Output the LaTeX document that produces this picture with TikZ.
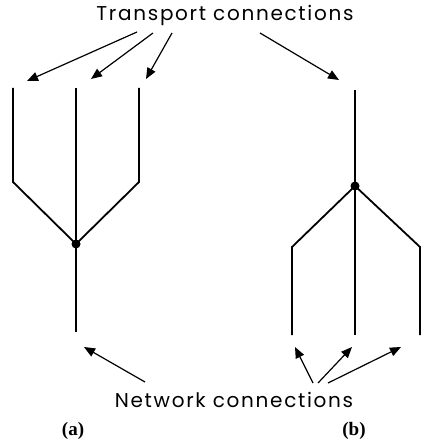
\documentclass[tikz,border=0pt]{standalone}
\usepackage{fontspec}
\usetikzlibrary{arrows.meta}
\setmainfont{Liberation Serif}
\newfontfamily\plotfont[LetterSpace=8.5]{Poppins}
\begin{document}
\begin{tikzpicture}[x=1pt,y=-1pt,
  wire/.style={line width=1.8pt, line join=miter},
  pointer/.style={line width=1.2pt, -{Triangle[length=11pt,width=9pt]}},
  junction/.style={circle, fill, inner sep=0pt, minimum size=9pt},
  caption/.style={font=\plotfont\fontsize{20}{24}\selectfont, inner sep=0pt},
  tag/.style={font=\bfseries\fontsize{19}{22}\selectfont, inner sep=0pt}]
\useasboundingbox (0,0) rectangle (422,443);

% (a): three transport connections merging into one network connection
\node[junction] (ja) at (76,244) {};
\coordinate (a1) at (13,88);
\coordinate (a1k) at (13,182);
\coordinate (a2) at (76,88);
\coordinate (a3) at (139,88);
\coordinate (a3k) at (139,182);
\coordinate (aout) at (76,332);
\draw[wire] (a1) -- (a1k) -- (ja.center);
\draw[wire] (a2) -- (aout);
\draw[wire] (a3) -- (a3k) -- (ja.center);

% (b): one transport connection split over three network connections
\node[junction] (jb) at (355,186) {};
\coordinate (b0) at (355,90);
\coordinate (b1k) at (292,247);
\coordinate (b1) at (292,335);
\coordinate (b2) at (355,335);
\coordinate (b3k) at (420,247);
\coordinate (b3) at (420,335);
\draw[wire] (b0) -- (jb.center);
\draw[wire] (jb.center) -- (b1k) -- (b1);
\draw[wire] (jb.center) -- (b2);
\draw[wire] (jb.center) -- (b3k) -- (b3);

% captions
\node[caption] (tc) at (225,15) {Transport connections};
\node[caption] (nc) at (234,400) {Network connections};
\node[tag] (la) at (73,431) {(a)};
\node[tag] (lb) at (354,431) {(b)};

% pointers from the upper caption
\coordinate (t1s) at (137,32);  \coordinate (t1e) at (27,81);
\coordinate (t2s) at (153,33);  \coordinate (t2e) at (91,79);
\coordinate (t3s) at (172,33);  \coordinate (t3e) at (146,79);
\coordinate (t4s) at (260,33);  \coordinate (t4e) at (339,80);
\draw[pointer] (t1s) -- (t1e);
\draw[pointer] (t2s) -- (t2e);
\draw[pointer] (t3s) -- (t3e);
\draw[pointer] (t4s) -- (t4e);

% pointers from the lower caption
\coordinate (n1s) at (145,382); \coordinate (n1e) at (84,347);
\coordinate (n2s) at (313,383); \coordinate (n2e) at (295,347);
\coordinate (n3s) at (318,383); \coordinate (n3e) at (352,347);
\coordinate (n4s) at (328,383); \coordinate (n4e) at (401,347);
\draw[pointer] (n1s) -- (n1e);
\draw[pointer] (n2s) -- (n2e);
\draw[pointer] (n3s) -- (n3e);
\draw[pointer] (n4s) -- (n4e);
\end{tikzpicture}
\end{document}
